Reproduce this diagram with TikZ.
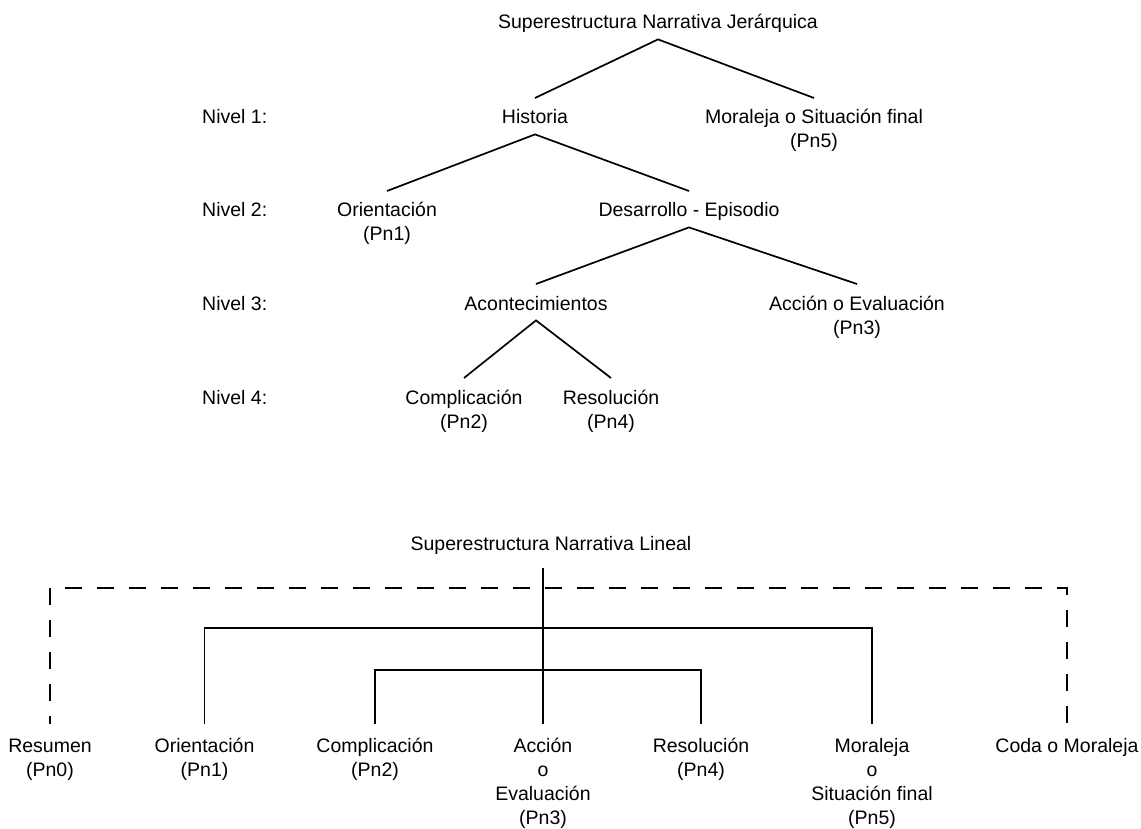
\documentclass[tikz,border=0pt]{standalone}
\usepackage{fontspec}
\setmainfont{Liberation Sans}
\newcommand{\mlab}[1]{\begin{tabular}[t]{@{}c@{}}#1\end{tabular}}
\tikzset{
  lab/.style={font=\fontsize{19.5}{24}\selectfont, inner sep=0pt, anchor=base},
  lvl/.style={lab, anchor=base west},
  edge/.style={line width=1.7pt},
  dashedge/.style={line width=1.9pt, dash pattern=on 17pt off 15pt, dash phase=9pt},
}
\begin{document}
\begin{tikzpicture}[x=1pt,y=-1pt]
\useasboundingbox (0,0) rectangle (1141,829);
% ---------- hierarchical ----------
\node[lab] (title) at (658,29) {\mlab{Superestructura Narrativa Jerárquica}};
\node[lvl] (n1) at (202,124) {Nivel 1:};
\node[lvl] (n2) at (202,217) {Nivel 2:};
\node[lvl] (n3) at (202,310) {Nivel 3:};
\node[lvl] (n4) at (202,404) {Nivel 4:};
\node[lab] (hist) at (535,124) {\mlab{Historia}};
\node[lab] (mor) at (814,124) {\mlab{Moraleja o Situación final\\(Pn5)}};
\node[lab] (ori) at (387,217) {\mlab{Orientación\\(Pn1)}};
\node[lab] (des) at (689,217) {\mlab{Desarrollo - Episodio}};
\node[lab] (aco) at (536,310) {\mlab{Acontecimientos}};
\node[lab] (acc) at (857,310) {\mlab{Acción o Evaluación\\(Pn3)}};
\node[lab] (com) at (464,404) {\mlab{Complicación\\(Pn2)}};
\node[lab] (res) at (611,404) {\mlab{Resolución\\(Pn4)}};
\draw[edge] ([yshift=9pt]hist.north) -- ([yshift=-3pt]title.south) -- ([yshift=9pt]mor.north);
\draw[edge] ([yshift=9pt]ori.north) -- ([yshift=-3pt]hist.south) -- ([yshift=9pt]des.north);
\draw[edge] ([yshift=9pt]aco.north) -- ([yshift=-3pt]des.south) -- ([yshift=9pt]acc.north);
\draw[edge] ([yshift=9pt]com.north) -- ([yshift=-3pt]aco.south) -- ([yshift=9pt]res.north);
% ---------- linear ----------
\node[lab] (lin) at (551,550) {\mlab{Superestructura Narrativa Lineal}};
\node[lab] (r0) at (50,752) {\mlab{Resumen\\(Pn0)}};
\node[lab] (o2) at (204.5,752) {\mlab{Orientación\\(Pn1)}};
\node[lab] (c2) at (375,752) {\mlab{Complicación\\(Pn2)}};
\node[lab] (a2) at (543,752) {\mlab{Acción\\o\\Evaluación\\(Pn3)}};
\node[lab] (s2) at (701,752) {\mlab{Resolución\\(Pn4)}};
\node[lab] (m2) at (872,752) {\mlab{Moraleja\\o\\Situación final\\(Pn5)}};
\node[lab] (coda) at (1067,752) {\mlab{Coda o Moraleja}};
\coordinate (ctop) at (543,568);
\coordinate (dtop) at (543,588);
\coordinate (b1) at (543,628);
\coordinate (b2) at (543,670);
\draw[dashedge] ([yshift=11pt]r0.north) |- (dtop) -| ([yshift=11pt]coda.north);
\draw[edge] ([yshift=11pt]o2.north) |- (b1) -| ([yshift=11pt]m2.north);
\draw[edge] ([yshift=11pt]c2.north) |- (b2) -| ([yshift=11pt]s2.north);
\draw[edge] (ctop) -- ([yshift=11pt]a2.north);
\end{tikzpicture}
\end{document}
